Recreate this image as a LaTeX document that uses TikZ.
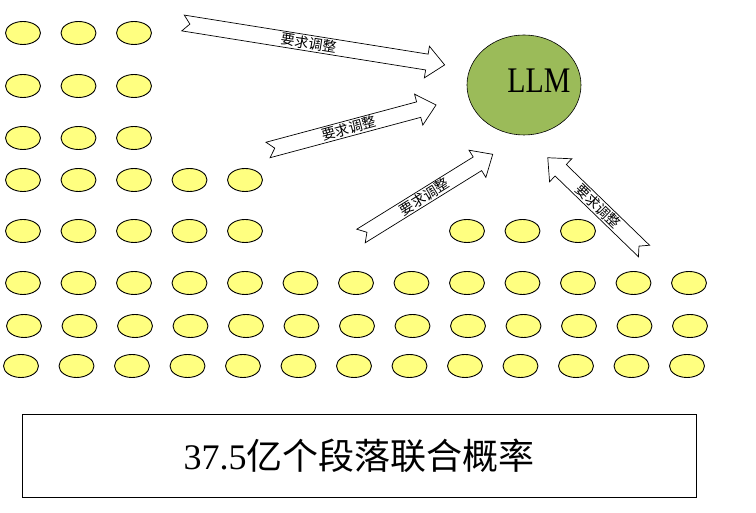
\documentclass[tikz,border=0pt]{standalone}
\usepackage{fontspec}
\setmainfont{Liberation Serif}
\newfontfamily\cjk{Noto Sans CJK SC}
\usetikzlibrary{shapes.geometric}
\definecolor{dotyellow}{HTML}{FFFF80}
\definecolor{llmgreen}{HTML}{9BBB59}
\tikzset{
 dot/.style={ellipse, draw=black, line width=0.9pt, fill=dotyellow, minimum width=35pt, minimum height=23pt, inner sep=0pt},
 llm/.style={ellipse, draw=black, line width=0.6pt, fill=llmgreen, minimum width=114pt, minimum height=100pt, inner sep=0pt},
 blockarrow/.style={draw=black, line width=0.7pt, fill=white, line join=miter},
 arrowlabel/.style={font=\cjk\fontsize{14pt}{14pt}\selectfont, inner sep=0pt},
 bigbox/.style={draw=black, line width=0.8pt, minimum width=674pt, minimum height=83pt, inner sep=0pt}
}
% name, x, y, angle, length, text rotation
\newcommand\blkarrow[6]{%
 \begin{scope}[shift={(#2,#3)}, rotate=#4]
  \coordinate (#1-tail) at (0,0);
  \coordinate (#1-tip) at (#5,0);
  \draw[blockarrow] (0,8) -- ({#5-18},8) -- ({#5-18},16) -- (#5,0) -- ({#5-18},-16) -- ({#5-18},-8) -- (0,-8) -- (7,0) -- cycle;
  \node[arrowlabel, rotate=#6] (#1-lab) at ({0.48*#5},0) {要求调整};
 \end{scope}
}
\begin{document}
\begin{tikzpicture}[x=1pt, y=1pt]
\useasboundingbox (0,0) rectangle (756,513);
% yellow ellipses
\foreach \r/\y/\n/\dx in {1/33/3/0, 2/86/3/0, 3/138/3/0, 4/180/5/0, 5/231/5/0, 6/283/13/0, 7/326/13/1, 8/366/13/-2}{
  \foreach \c in {1,...,\n}{
    \node[dot] (e\r-\c) at ({23+(\c-1)*55.5+\dx},{513-\y}) {};
  }
}
\foreach \c in {9,10,11}{
  \node[dot] (e5-\c) at ({23+(\c-1)*55.5},{513-231}) {};
}
% LLM
\node[llm] (llm) at (524,428) {};
\node[inner sep=0pt] (llmtext) at (539,432) {\fontsize{36pt}{36pt}\selectfont\scalebox{0.83}[1]{LLM}};
% block arrows
\blkarrow{a1}{183}{490}{-9.1}{265}{-9.1}
\blkarrow{a2}{268}{363}{15}{174}{15}
\blkarrow{a3}{361}{277}{31.8}{155}{31.8}
\blkarrow{a4}{644}{262}{135.9}{134}{-44.1}
% bottom box
\node[bigbox] (box) at (359,57.5) {\fontsize{36pt}{36pt}\selectfont 37.5{\cjk 亿个段落联合概率}};
\end{tikzpicture}
\end{document}
